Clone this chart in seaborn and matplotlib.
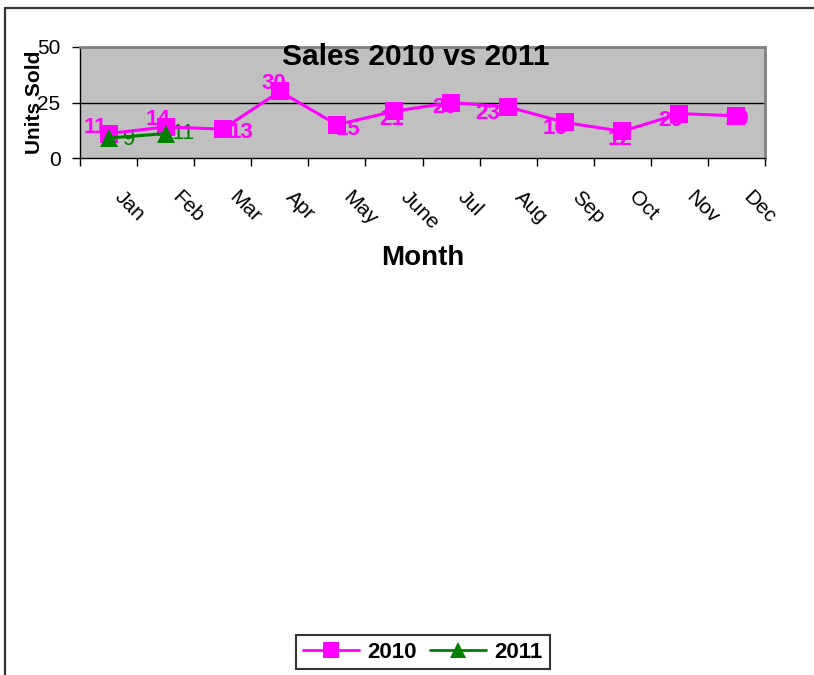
import numpy as np
import pandas as pd
import matplotlib
matplotlib.use("Agg")
import matplotlib.pyplot as plt
import matplotlib.transforms as mtransforms
from matplotlib.lines import Line2D
import seaborn as sns

# Data
MONTHS = ["Jan", "Feb", "Mar", "Apr", "May", "June", "Jul", "Aug", "Sep", "Oct", "Nov", "Dec"]
SALES_2010 = [11, 14, 13, 30, 15, 21, 25, 23, 16, 12, 20, 19]
SALES_2011 = [9, 11]
Y_TICKS = [0, 25, 50]

# label offsets (pixels) around each point, as placed in the original
OFFS_2010 = [(-13, 6), (-8, 7), (18, -3), (-6, 8), (11, -5), (-2, -8),
             (-6, -5), (-20, -7), (-10, -6), (-2, -8), (-9, -7), (1, -4)]
OFFS_2011 = [(21, -1), (17, 0)]

MAGENTA = "#FF00FF"
GREEN = "#008000"

sns.set_style("white")
plt.rcParams['font.family'] = ['Liberation Sans', 'DejaVu Sans']
plt.rcParams.update({"text.color": "black", "axes.labelcolor": "black",
                     "xtick.color": "black", "ytick.color": "black"})

df = pd.concat([
    pd.DataFrame({"pos": range(len(SALES_2010)), "sales": SALES_2010, "year": "2010"}),
    pd.DataFrame({"pos": range(len(SALES_2011)), "sales": SALES_2011, "year": "2011"}),
])

fig = plt.figure(figsize=(8.14, 6.75), dpi=100)
ax = fig.add_axes([80 / 814, 1 - 158 / 675, 685 / 814, 111 / 675])
ax.set_facecolor("#C0C0C0")

sns.lineplot(data=df, x="pos", y="sales", hue="year", style="year",
             palette={"2010": MAGENTA, "2011": GREEN},
             markers={"2010": "s", "2011": "^"}, dashes=False,
             markersize=13, linewidth=2.2, markeredgewidth=0,
             legend=False, ax=ax, zorder=3)

# data labels
for i, (v, (dx, dy)) in enumerate(zip(SALES_2010, OFFS_2010)):
    ax.annotate(str(v), (i, v), xytext=(dx, dy), textcoords="offset pixels",
                ha="center", va="center", color=MAGENTA, fontsize=16,
                fontweight="bold", zorder=2)
for i, (v, (dx, dy)) in enumerate(zip(SALES_2011, OFFS_2011)):
    ax.annotate(str(v), (i, v), xytext=(dx, dy), textcoords="offset pixels",
                ha="center", va="center", color=GREEN, fontsize=16, zorder=2)

# axes
ax.set_xlim(-0.5, len(MONTHS) - 0.5)
ax.set_ylim(0, 50)
ax.set_yticks(Y_TICKS)
ax.tick_params(axis="y", labelsize=15, length=6, width=1, color="black", pad=8, left=True)
ax.axhline(25, color="black", linewidth=1, zorder=1)

ax.set_xticks(range(len(MONTHS)))
ax.set_xticklabels(MONTHS, rotation=-45, ha="left", va="top",
                   rotation_mode="anchor", fontsize=15)
ax.set_xticks(np.arange(-0.5, len(MONTHS)), minor=True)
ax.tick_params(axis="x", which="major", length=0, pad=21)
ax.tick_params(axis="x", which="minor", length=6, width=1, color="black", bottom=True)
shift = mtransforms.ScaledTranslation(16 / 100, 0, fig.dpi_scale_trans)
for lab in ax.get_xticklabels():
    lab.set_transform(lab.get_transform() + shift)

for side in ["top", "right"]:
    ax.spines[side].set_color("#808080")
    ax.spines[side].set_linewidth(2)
for side in ["left", "bottom"]:
    ax.spines[side].set_color("black")
    ax.spines[side].set_linewidth(1)

ax.set_ylabel("Units Sold", fontsize=15, fontweight="bold")
ax.yaxis.set_label_coords(-0.053, 0.5)
ax.set_xlabel("Month", fontsize=20, fontweight="bold")
ax.xaxis.set_label_coords(0.5, -0.78)
ax.text(0.49, 0.91, "Sales 2010 vs 2011", transform=ax.transAxes,
        ha="center", va="center", fontsize=21.5, fontweight="bold", zorder=5)

# legend
handles = [
    Line2D([], [], color=MAGENTA, marker="s", markersize=11, linewidth=2, markeredgewidth=0),
    Line2D([], [], color=GREEN, marker="^", markersize=11, linewidth=2, markeredgewidth=0),
]
leg = fig.legend(handles, ["2010", "2011"], loc="center", bbox_to_anchor=(423 / 814, 1 - 652 / 675),
                 ncol=2, frameon=True, fancybox=False, handlelength=2.5,
                 columnspacing=0.6, handletextpad=0.4, borderpad=0.3,
                 prop={"size": 16, "weight": "bold"})
leg.get_frame().set_edgecolor("black")
leg.get_frame().set_linewidth(1.5)

# chart border (left and top edges visible)
fig.add_artist(Line2D([4.5 / 814, 4.5 / 814], [0, 1 - 8 / 675], color="#333333", linewidth=1.6))
fig.add_artist(Line2D([4.5 / 814, 1], [1 - 8 / 675, 1 - 8 / 675], color="#333333", linewidth=1.6))

fig.savefig("out.png", dpi=100)
